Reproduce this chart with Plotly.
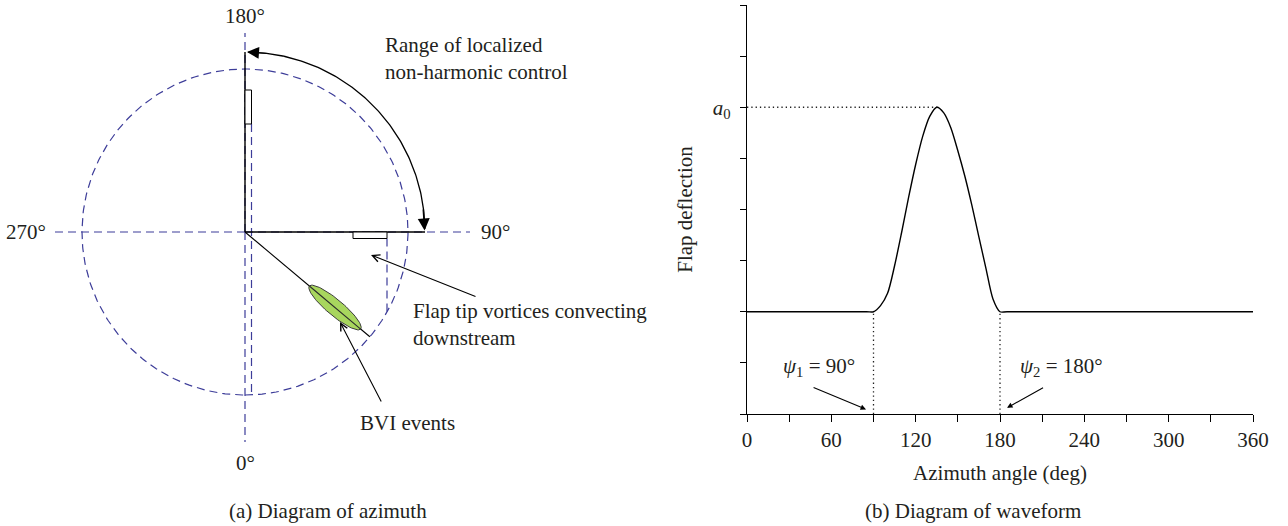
import numpy as np
import plotly.graph_objects as go

# ---------------- data: (b) waveform ----------------
azimuth_deg = [0, 85, 90, 95, 100, 105, 110, 115, 120, 125, 130, 135, 140,
               145, 150, 155, 160, 165, 170, 175, 180, 185, 360]
flap_deflection = [2, 2, 2, 2.12, 2.36, 2.9, 3.55, 4.24, 4.88, 5.43, 5.82, 6.0,
                   5.89, 5.6, 5.15, 4.65, 4.08, 3.46, 2.85, 2.25, 2.0, 2, 2]
x_tick_vals = [0, 30, 60, 90, 120, 150, 180, 210, 240, 270, 300, 330, 360]
x_tick_labels = ["0", "", "60", "", "120", "", "180", "", "240", "", "300", "", "360"]
y_tick_vals = [0, 1, 2, 3, 4, 5, 6, 7, 8]
y_tick_labels = ["", "", "", "", "", "", "<i>a</i><sub>0</sub>", "", ""]
peak_azimuth = 135.5
peak_value = 6
baseline_value = 2
psi_1, psi_2 = 90, 180

# ---------------- data: (a) azimuth diagram ----------------
azimuth_marks = [0, 90, 180, 270]
azimuth_mark_labels = ["0°", "90°", "180°", "270°"]
control_range = [90, 180]
bvi_azimuth = 50

# ---------------- geometry / style ----------------
FONT = "Liberation Serif, Times New Roman, serif"
TXT = "#231f20"
BLUE = "#3d3d99"
FS = 21
R = 163          # rotor disk radius (px units of the diagram axes)
BLADE = 180      # drawn blade length for the control range
FLAP = (108, 142)
CHORD = 6.5


def pol(psi, r):
    a = np.deg2rad(psi)
    return r * np.sin(a), -r * np.cos(a)


fig = go.Figure()
D = dict(xaxis="x2", yaxis="y2", showlegend=False, hoverinfo="skip", mode="lines")
DASH = dict(color=BLUE, width=1.2, dash="8px,5px")

# dashed reference axes
ext = {0: 210, 90: 225, 180: 199, 270: 190}
for p in azimuth_marks:
    x1, y1 = pol(p, ext[p])
    fig.add_trace(go.Scatter(x=[0, x1], y=[0, y1], line=DASH, **D))
# dashed rotor disk
th = np.linspace(0, 360, 361)
cx, cy = pol(th, R)
fig.add_trace(go.Scatter(x=cx, y=cy, line=DASH, **D))
# vortex trails from flaps (convecting downstream)
fig.add_trace(go.Scatter(x=[CHORD, CHORD], y=[FLAP[0], -np.sqrt(R**2 - CHORD**2)], line=DASH, **D))
fig.add_trace(go.Scatter(x=[FLAP[1], FLAP[1]], y=[-CHORD, -np.sqrt(R**2 - FLAP[1]**2)], line=DASH, **D))

# blades at ends of control range
for p in control_range:
    x1, y1 = pol(p, BLADE)
    fig.add_trace(go.Scatter(x=[0, x1], y=[0, y1], line=dict(color="black", width=1.4), **D))
# flaps
fig.add_trace(go.Scatter(x=[0, CHORD, CHORD, 0, 0], y=[FLAP[0], FLAP[0], FLAP[1], FLAP[1], FLAP[0]],
                         line=dict(color="black", width=1), fill="toself", fillcolor="white", **D))
fig.add_trace(go.Scatter(x=[FLAP[0], FLAP[1], FLAP[1], FLAP[0], FLAP[0]], y=[0, 0, -CHORD, -CHORD, 0],
                         line=dict(color="black", width=1), fill="toself", fillcolor="white", **D))
# range arc
arc = np.linspace(control_range[0] + 1, control_range[1] - 1, 120)
ax_, ay_ = pol(arc, BLADE)
fig.add_trace(go.Scatter(x=ax_, y=ay_, line=dict(color="black", width=1.3), **D))

# BVI blade + event ellipse
bx, by = pol(bvi_azimuth, R)
fig.add_trace(go.Scatter(x=[0, bx], y=[0, by], line=dict(color="black", width=1.1), **D))
t = np.linspace(0, 2 * np.pi, 100)
ecx, ecy = pol(bvi_azimuth, 117.5)
ang = np.arctan2(by, bx)
ex = ecx + 33.5 * np.cos(t) * np.cos(ang) - 8 * np.sin(t) * np.sin(ang)
ey = ecy + 33.5 * np.cos(t) * np.sin(ang) + 8 * np.sin(t) * np.cos(ang)
fig.add_trace(go.Scatter(x=ex, y=ey, fill="toself", fillcolor="#a8d65e",
                         line=dict(color="#3a3a3a", width=1), **D))
e1 = pol(bvi_azimuth, 84)
e2 = pol(bvi_azimuth, 151)
fig.add_trace(go.Scatter(x=[e1[0], e2[0]], y=[e1[1], e2[1]], line=dict(color="#2a2a2a", width=1.1), **D))

# ---------------- (b) waveform ----------------
DOT = dict(color="#222", width=1.3, dash="1.3px,3px")
fig.add_trace(go.Scatter(x=[0, peak_azimuth], y=[peak_value, peak_value], mode="lines",
                         line=DOT, showlegend=False, hoverinfo="skip"))
for p in (psi_1, psi_2):
    fig.add_trace(go.Scatter(x=[p, p], y=[0, baseline_value], mode="lines",
                             line=DOT, showlegend=False, hoverinfo="skip"))
fig.add_trace(go.Scatter(x=azimuth_deg, y=flap_deflection, mode="lines",
                         line=dict(color="black", width=1.4, shape="spline", smoothing=0.8),
                         showlegend=False, name="Flap deflection"))

# ---------------- annotations ----------------
ann = []
tf = dict(family=FONT, size=FS, color=TXT)


def text2(x, y, s, xa="center"):
    ann.append(dict(x=x, y=y, xref="x2", yref="y2", text=s, showarrow=False, xanchor=xa,
                    yanchor="middle", align="left", font=tf))


def arrow(x, y, axv, ayv, xr, yr, head=2, size=1.0, width=1.2):
    ann.append(dict(x=x, y=y, ax=axv, ay=ayv, xref=xr, yref=yr, axref=xr, ayref=yr, text="",
                    showarrow=True, arrowhead=head, arrowsize=size, arrowwidth=width,
                    arrowcolor="black", standoff=0))


lx, ly = pol(180, 216); text2(lx, ly, azimuth_mark_labels[2])
lx, ly = pol(0, 231); text2(lx, ly, azimuth_mark_labels[0])
text2(-197, 0, azimuth_mark_labels[3], "right")
text2(234, 0, azimuth_mark_labels[1], "left")
text2(138, 174, "Range of localized<br>non-harmonic control", "left")
text2(166, -92, "Flap tip vortices convecting<br>downstream", "left")
text2(113, -191, "BVI events", "left")
# arc heads
arrow(2, 180, 24, 178.4, "x2", "y2", head=2, size=2.0, width=1.2)
arrow(179.6, 1.5, 178, 24, "x2", "y2", head=2, size=2.0, width=1.2)
# pointer arrows
arrow(126, -23, 232, -65, "x2", "y2", head=5, size=1.3, width=1.1)
arrow(95, -90, 137, -171, "x2", "y2", head=5, size=1.3, width=1.1)

ann.append(dict(x=51.2, y=0.92, xref="x", yref="y", text="<i>ψ</i><sub>1</sub> = 90°",
                showarrow=False, font=tf))
ann.append(dict(x=223.8, y=0.92, xref="x", yref="y", text="<i>ψ</i><sub>2</sub> = 180°",
                showarrow=False, font=tf))
arrow(84.7, 0.09, 46.3, 0.53, "x", "y", head=2, size=1.0, width=1.1)
arrow(185, 0.12, 211.7, 0.53, "x", "y", head=2, size=1.0, width=1.1)

ann.append(dict(x=328 / 1288, y=1 - 511 / 526, xref="paper", yref="paper", text="(a) Diagram of azimuth",
                showarrow=False, font=tf, xanchor="center", yanchor="middle"))
ann.append(dict(x=972.5 / 1288, y=1 - 511 / 526, xref="paper", yref="paper", text="(b) Diagram of waveform",
                showarrow=False, font=tf, xanchor="center", yanchor="middle"))

fig.update_layout(
    width=1288, height=526, margin=dict(l=0, r=0, t=0, b=0),
    paper_bgcolor="white", plot_bgcolor="white",
    font=dict(family=FONT, size=FS, color=TXT),
    annotations=ann,
    xaxis=dict(domain=[747 / 1288, 1253 / 1288], range=[0, 360], tickvals=x_tick_vals,
               ticktext=x_tick_labels, ticks="outside", ticklen=7, tickwidth=1, tickcolor="black",
               showline=True, linecolor="black", linewidth=1.2, showgrid=False, zeroline=False,
               tickfont=dict(size=FS), anchor="y", automargin=False,
               title=dict(text="Azimuth angle (deg)", standoff=14, font=dict(size=FS))),
    yaxis=dict(domain=[1 - 414 / 526, 1 - 5 / 526], range=[0, 8], tickvals=y_tick_vals,
               ticktext=y_tick_labels, ticks="outside", ticklen=6, tickwidth=1, tickcolor="black",
               showline=True, linecolor="black", linewidth=1.2, showgrid=False, zeroline=False,
               tickfont=dict(size=FS), anchor="x", automargin=False, ticklabelstandoff=5,
               title=dict(text="Flap deflection", standoff=14, font=dict(size=FS))),
    xaxis2=dict(domain=[0, 600 / 1288], range=[-245, 355], visible=False, anchor="y2"),
    yaxis2=dict(domain=[0, 1], range=[-294, 232], visible=False, anchor="x2"),
)

fig.write_html("out.html")
